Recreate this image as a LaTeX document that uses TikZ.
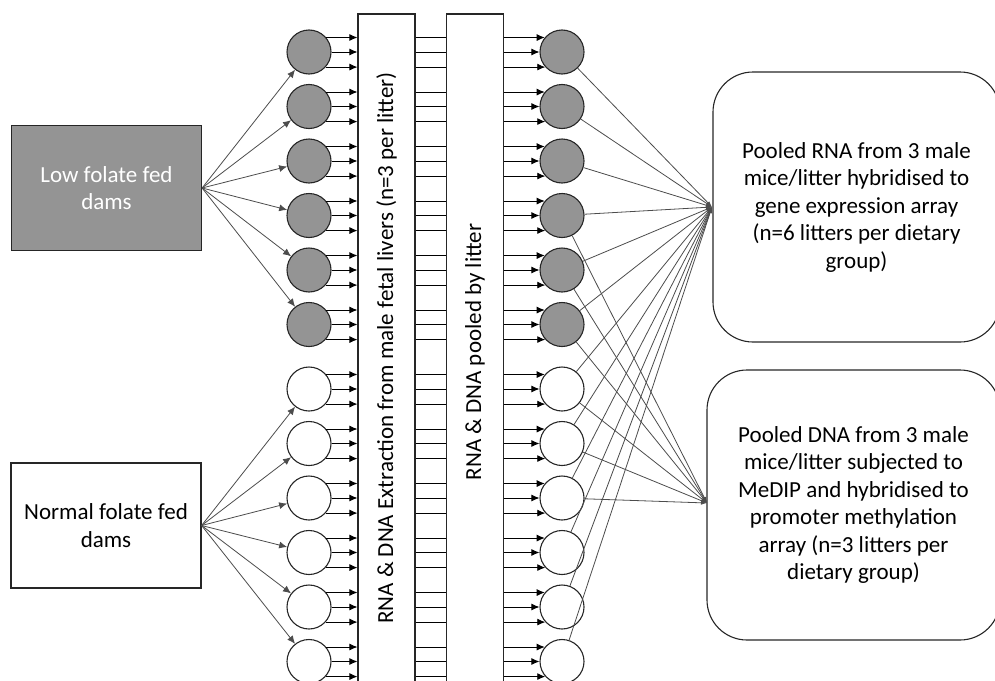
\documentclass[tikz,border=0pt]{standalone}
\usepackage{fontspec}
\setmainfont{Carlito}
\usetikzlibrary{positioning,arrows.meta}
\definecolor{damgrey}{gray}{0.58}
\definecolor{linegrey}{gray}{0.3}

\begin{document}
\begin{tikzpicture}[x=1pt, y=-1pt,
damnode/.style={rectangle, draw=black!85, line width=1.2pt, minimum width=190pt, minimum height=125pt, align=center},
fetus/.style={circle, draw=black!85, line width=1.1pt, minimum size=44pt, inner sep=0pt},
barnode/.style={rectangle, draw=black!85, line width=1.1pt, minimum width=57pt, minimum height=686pt},
resultnode/.style={rectangle, rounded corners=40pt, draw=black!85, line width=1.1pt, minimum height=270pt, align=center},
feed/.style={-{Latex[length=8pt,width=7pt]}, draw=linegrey, line width=0.8pt},
flow/.style={-{Latex[length=8pt,width=7pt]}, line width=0.9pt},
link/.style={-{Latex[length=6pt,width=4pt]}, draw=linegrey, line width=0.8pt}]
\tikzstyle{every node}=[font=\fontsize{23}{27.5}\selectfont]
\useasboundingbox (0,0) rectangle (995,680);

% dams
\node[damnode, fill=damgrey, text=white] (low) at (106.5,188) {Low folate fed\\dams};
\node[damnode] (normal) at (106,525.5) {Normal folate fed\\dams};

% extraction and pooling
\node[barnode] (extract) at (386.5,357) {};
\node[barnode] (pool) at (475,357) {};
\node[rotate=90] (extracttxt) at (386.5,348) {RNA \& DNA Extraction from male fetal livers (n=3 per litter)};
\node[rotate=90] (pooltxt) at (475,352) {RNA \& DNA pooled by litter};

% fetuses and pooled litters
\foreach \i in {1,...,6} {
  \node[fetus, fill=damgrey] (f\i) at (309,{52+54.5*(\i-1)}) {};
  \node[fetus, fill=damgrey] (p\i) at (562,{52+54.5*(\i-1)}) {};
}
\foreach \i in {7,...,12} {
  \node[fetus, fill=white] (f\i) at (309,{389+54.5*(\i-7)}) {};
  \node[fetus, fill=white] (p\i) at (562,{389+54.5*(\i-7)}) {};
}

% arrays
\node[resultnode, minimum width=287pt] (rna) at (856.5,207) {Pooled RNA from 3 male\\mice/litter hybridised to\\gene expression array\\(n=6 litters per dietary\\group)};
\node[resultnode, minimum width=293pt] (dna) at (853.5,505) {Pooled DNA from 3 male\\mice/litter subjected to\\MeDIP and hybridised to\\promoter methylation\\array (n=3 litters per\\dietary group)};
\coordinate (rnain) at (712,207);
\coordinate (dnain) at (707,503);

\foreach \i in {1,...,6} \draw[feed] (low.east) -- (f\i);
\foreach \i in {7,...,12} \draw[feed] (normal.east) -- (f\i);

\foreach \i in {1,...,12}
  \foreach \a/\b in {40/140, 0/180, -42/-138} {
    \draw[flow] (f\i.\a) -- (f\i.\a -| extract.west);
    \draw[line width=0.8pt] (f\i.\a -| extract.east) -- (f\i.\a -| pool.west);
    \draw[flow] (f\i.\a -| pool.east) -- (p\i.\b);
  }

\foreach \i in {1,...,12} \draw[link] (p\i) -- (rnain);
\foreach \i in {4,...,9} \draw[link] (p\i) -- (dnain);
\end{tikzpicture}
\end{document}
